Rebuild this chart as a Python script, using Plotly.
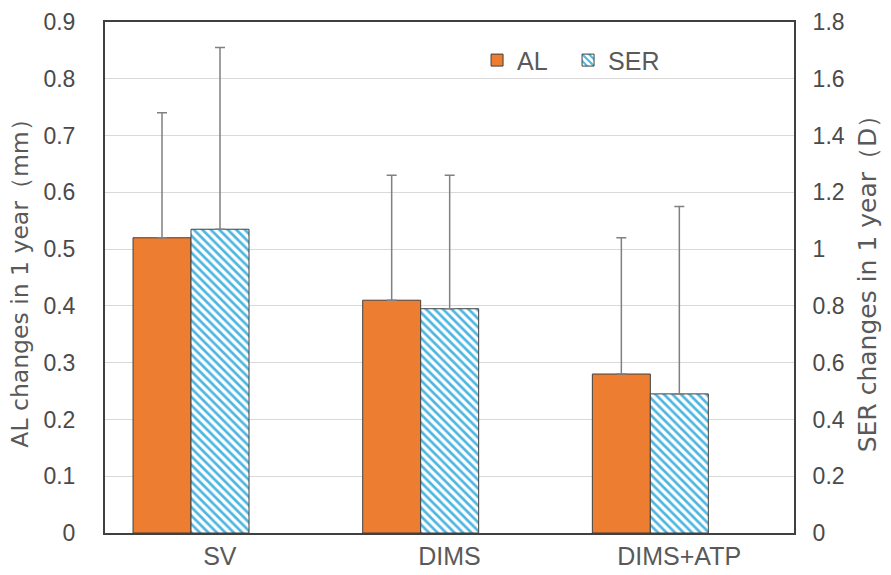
import plotly.graph_objects as go

categories = ["SV", "DIMS", "DIMS+ATP"]
al_mean = [0.52, 0.41, 0.28]
al_err = [0.22, 0.22, 0.24]
ser_mean = [1.07, 0.79, 0.49]
ser_err = [0.64, 0.47, 0.66]

left_ticks = [0, 0.1, 0.2, 0.3, 0.4, 0.5, 0.6, 0.7, 0.8, 0.9]
right_ticks = [0, 0.2, 0.4, 0.6, 0.8, 1, 1.2, 1.4, 1.6, 1.8]

FONT = "Liberation Sans, Arial, sans-serif"
TFONT = "DejaVu Sans, Liberation Sans, sans-serif"
TXT = "#595959"
TICK = "#4a4a4a"

fig = go.Figure()
fig.add_trace(go.Bar(
    x=categories, y=al_mean, name="AL",
    width=0.2525, offset=-0.378,
    marker=dict(color="#ED7D31", line=dict(color="#404040", width=1)),
    error_y=dict(type="data", array=al_err, arrayminus=[0] * 3, symmetric=False,
                 color="#808080", thickness=1.5, width=5),
    yaxis="y",
))
fig.add_trace(go.Bar(
    x=categories, y=ser_mean, name="SER",
    width=0.2525, offset=-0.1255,
    marker=dict(color="white", line=dict(color="#404040", width=1),
                pattern=dict(shape="\\", fgcolor="#4DB6E0", bgcolor="white",
                             size=6, solidity=0.45, fillmode="replace")),
    error_y=dict(type="data", array=ser_err, arrayminus=[0] * 3, symmetric=False,
                 color="#808080", thickness=1.5, width=5),
    yaxis="y2",
))

fig.update_layout(
    width=891, height=575,
    margin=dict(l=105, r=97, t=22, b=42, autoexpand=False),
    paper_bgcolor="white", plot_bgcolor="white",
    font=dict(family=FONT, color=TXT, size=22),
    barmode="overlay",
    showlegend=True,
    legend=dict(orientation="h", x=0.540, y=0.97, xanchor="left", yanchor="top",
                font=dict(size=25, color=TXT), bgcolor="rgba(0,0,0,0)",
                entrywidth=46, entrywidthmode="pixels"),
    xaxis=dict(range=[-0.5, 2.5], showgrid=False, ticks="",
               showline=True, linecolor="#404040", linewidth=2, mirror=True,
               ticklabelstandoff=0,
               tickfont=dict(size=25, color=TXT)),
    yaxis=dict(range=[0, 0.9], tickvals=left_ticks, ticks="",
               showgrid=True, gridcolor="#D9D9D9", gridwidth=1,
               showline=True, linecolor="#404040", linewidth=2,
               zeroline=False, ticklabelstandoff=23,
               tickfont=dict(size=23, color=TICK),
               title=dict(text="AL changes in 1 year（mm）", font=dict(family=TFONT, size=23.5, color=TXT),
                          standoff=8)),
    yaxis2=dict(range=[0, 1.8], tickvals=right_ticks, overlaying="y", side="right",
                showgrid=False, zeroline=False, ticks="",
                showline=True, linecolor="#404040", linewidth=2,
                ticklabelstandoff=12,
                tickfont=dict(size=23, color=TICK),
                title=dict(text="SER changes in 1 year（D）", font=dict(family=TFONT, size=25, color=TXT),
                           standoff=15)),
)

fig.write_html("out.html", config={"displayModeBar": False},
               post_script="document.body.style.margin='0';")
